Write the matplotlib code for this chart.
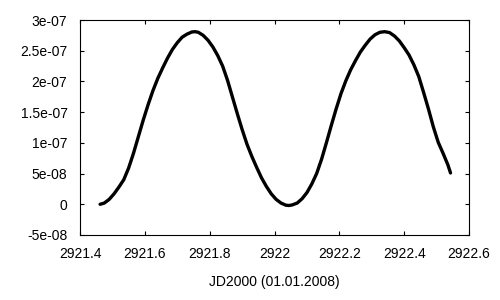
import matplotlib
matplotlib.use("Agg")
import matplotlib.pyplot as plt

plt.rcParams['font.family'] = ['Liberation Sans', 'DejaVu Sans']

# values (x in JD2000 days, y in units of 1e-8)
jd = [2921.462, 2921.475, 2921.490, 2921.505, 2921.520, 2921.535, 2921.550,
      2921.565, 2921.580, 2921.595, 2921.610, 2921.625, 2921.640, 2921.655,
      2921.670, 2921.685, 2921.700, 2921.715, 2921.730, 2921.745, 2921.755,
      2921.765, 2921.780, 2921.795, 2921.810, 2921.825, 2921.840, 2921.855,
      2921.870, 2921.885, 2921.900, 2921.915, 2921.930, 2921.945, 2921.960,
      2921.975, 2921.990, 2922.005, 2922.020, 2922.035, 2922.045, 2922.055,
      2922.070, 2922.085, 2922.100, 2922.115, 2922.130, 2922.145, 2922.160,
      2922.175, 2922.190, 2922.205, 2922.220, 2922.235, 2922.250, 2922.265,
      2922.280, 2922.295, 2922.310, 2922.325, 2922.340, 2922.355, 2922.370,
      2922.385, 2922.400, 2922.415, 2922.430, 2922.445, 2922.460, 2922.475,
      2922.490, 2922.505, 2922.520, 2922.535, 2922.543]
val_e8 = [0.0, 0.2, 0.8, 1.7, 2.8, 4.0, 5.9,
          8.3, 11.0, 13.7, 16.2, 18.5, 20.5, 22.2,
          23.8, 25.2, 26.3, 27.2, 27.7, 28.05, 28.1,
          28.0, 27.5, 26.7, 25.6, 24.2, 22.5, 20.2,
          17.5, 14.8, 12.2, 9.8, 7.8, 6.0, 4.3,
          2.9, 1.7, 0.8, 0.2, -0.15, -0.2, -0.1,
          0.2, 0.9, 1.9, 3.3, 5.0, 7.3, 10.0,
          12.8, 15.5, 18.0, 20.1, 21.9, 23.4, 24.8,
          25.9, 26.9, 27.6, 28.0, 28.1, 27.95, 27.4,
          26.6, 25.5, 24.3, 22.7, 20.8, 18.2, 15.5,
          12.6, 10.1, 8.3, 6.4, 5.1]

xticks = [2921.4, 2921.6, 2921.8, 2922.0, 2922.2, 2922.4, 2922.6]
xtick_labels = ['2921.4', '2921.6', '2921.8', '2922', '2922.2', '2922.4', '2922.6']
yticks = [-5e-8, 0, 5e-8, 1e-7, 1.5e-7, 2e-7, 2.5e-7, 3e-7]
ytick_labels = ['-5e-08', '0', '5e-08', '1e-07', '1.5e-07', '2e-07', '2.5e-07', '3e-07']

val = [v * 1e-8 for v in val_e8]

fig = plt.figure(figsize=(5, 3), dpi=100)
ax = fig.add_axes([0.16, 0.2167, 0.778, 0.7166])

ax.plot(jd, val, color='black', linewidth=2.4, solid_capstyle='round',
        solid_joinstyle='round')

ax.set_xlim(2921.4, 2922.6)
ax.set_ylim(-5e-8, 3e-7)
ax.set_xticks(xticks)
ax.set_xticklabels(xtick_labels)
ax.set_yticks(yticks)
ax.set_yticklabels(ytick_labels)
ax.tick_params(direction='in', length=3, width=0.8, top=True, right=True,
               labelsize=10, pad=9)
for s in ax.spines.values():
    s.set_linewidth(0.8)

ax.set_xlabel('JD2000 (01.01.2008)', fontsize=10, labelpad=10)

fig.savefig('out.png', dpi=100)
